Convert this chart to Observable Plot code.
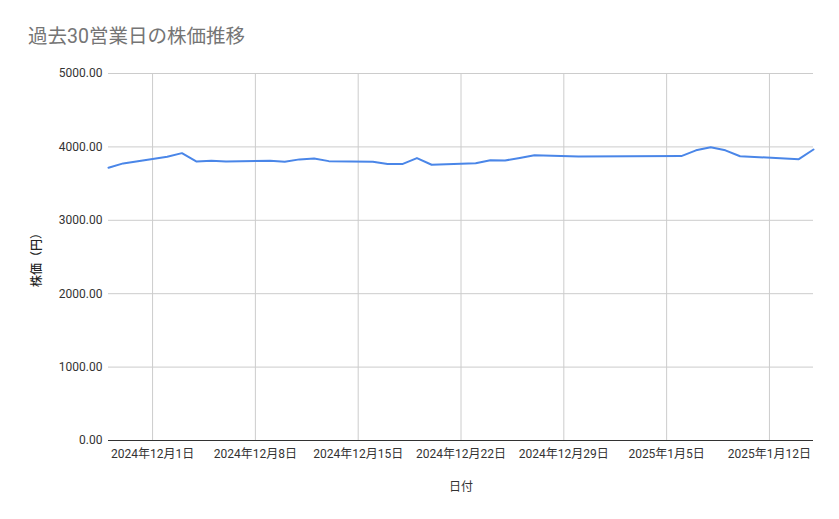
<!DOCTYPE html>
<html><head><meta charset="utf-8">
<script src="https://cdn.jsdelivr.net/npm/d3@7"></script>
<script src="https://cdn.jsdelivr.net/npm/@observablehq/plot@0.6"></script>
<style>
body{margin:0;background:#fff;font-family:Roboto,"Noto Sans CJK JP",sans-serif;}
#title{height:58px;box-sizing:border-box;padding:26px 0 0 28px;font-size:19.5px;color:#757575;line-height:22px;}
</style></head><body>
<div id="title">過去30営業日の株価推移</div>
<div id="chart"></div>
<script>
const dates = ["2024-11-28","2024-11-29","2024-12-02","2024-12-03","2024-12-04","2024-12-05","2024-12-06",
"2024-12-09","2024-12-10","2024-12-11","2024-12-12","2024-12-13",
"2024-12-16","2024-12-17","2024-12-18","2024-12-19","2024-12-20",
"2024-12-23","2024-12-24","2024-12-25","2024-12-26","2024-12-27",
"2024-12-30","2025-01-06","2025-01-07","2025-01-08","2025-01-09","2025-01-10",
"2025-01-14","2025-01-15"];
const prices = [3715,3775,3865,3915,3800,3810,3800,
3810,3797,3830,3843,3806,
3797,3766,3766,3848,3757,
3776,3817,3815,3850,3885,
3868,3875,3953,3996,3953,3873,
3833,3965];
const xTicks = ["2024-12-01","2024-12-08","2024-12-15","2024-12-22","2024-12-29","2025-01-05","2025-01-12"];
const yTicks = [0,1000,2000,3000,4000,5000];

const data = dates.map((d,i)=>({date:new Date(d+"T00:00:00Z"), price:prices[i]}));
const fmtDate = d => `${d.getUTCFullYear()}年${d.getUTCMonth()+1}月${d.getUTCDate()}日`;

const chart = Plot.plot({
  width:839, height:461,
  marginLeft:108, marginRight:26, marginTop:15, marginBottom:79,
  style:{fontFamily:'Roboto,"Noto Sans CJK JP",sans-serif', fontSize:"12px", color:"#222", background:"#fff"},
  x:{type:"utc", domain:[data[0].date, data[data.length-1].date]},
  y:{domain:[0,5000]},
  marks:[
    Plot.gridY(yTicks,{stroke:"#cccccc", strokeOpacity:1}),
    Plot.gridX(xTicks.map(d=>new Date(d+"T00:00:00Z")),{stroke:"#cccccc", strokeOpacity:1}),
    Plot.ruleY([0],{stroke:"#333"}),
    Plot.axisY(yTicks,{tickSize:0, tickPadding:6, tickFormat:d3.format(".2f"), label:null, fill:"#333"}),
    Plot.axisY({tickSize:0, ticks:[], label:"株価（円）", labelAnchor:"center", labelArrow:"none", labelOffset:76, fill:"#222", fontWeight:500}),
    Plot.axisX(xTicks.map(d=>new Date(d+"T00:00:00Z")),{tickSize:0, tickPadding:9, tickFormat:fmtDate, label:"日付", labelAnchor:"center", labelArrow:"none", labelOffset:50, fill:"#333"}),
    Plot.line(data,{x:"date", y:"price", stroke:"#4a86e8", strokeWidth:2})
  ]
});
document.getElementById("chart").appendChild(chart);
</script>
</body></html>
